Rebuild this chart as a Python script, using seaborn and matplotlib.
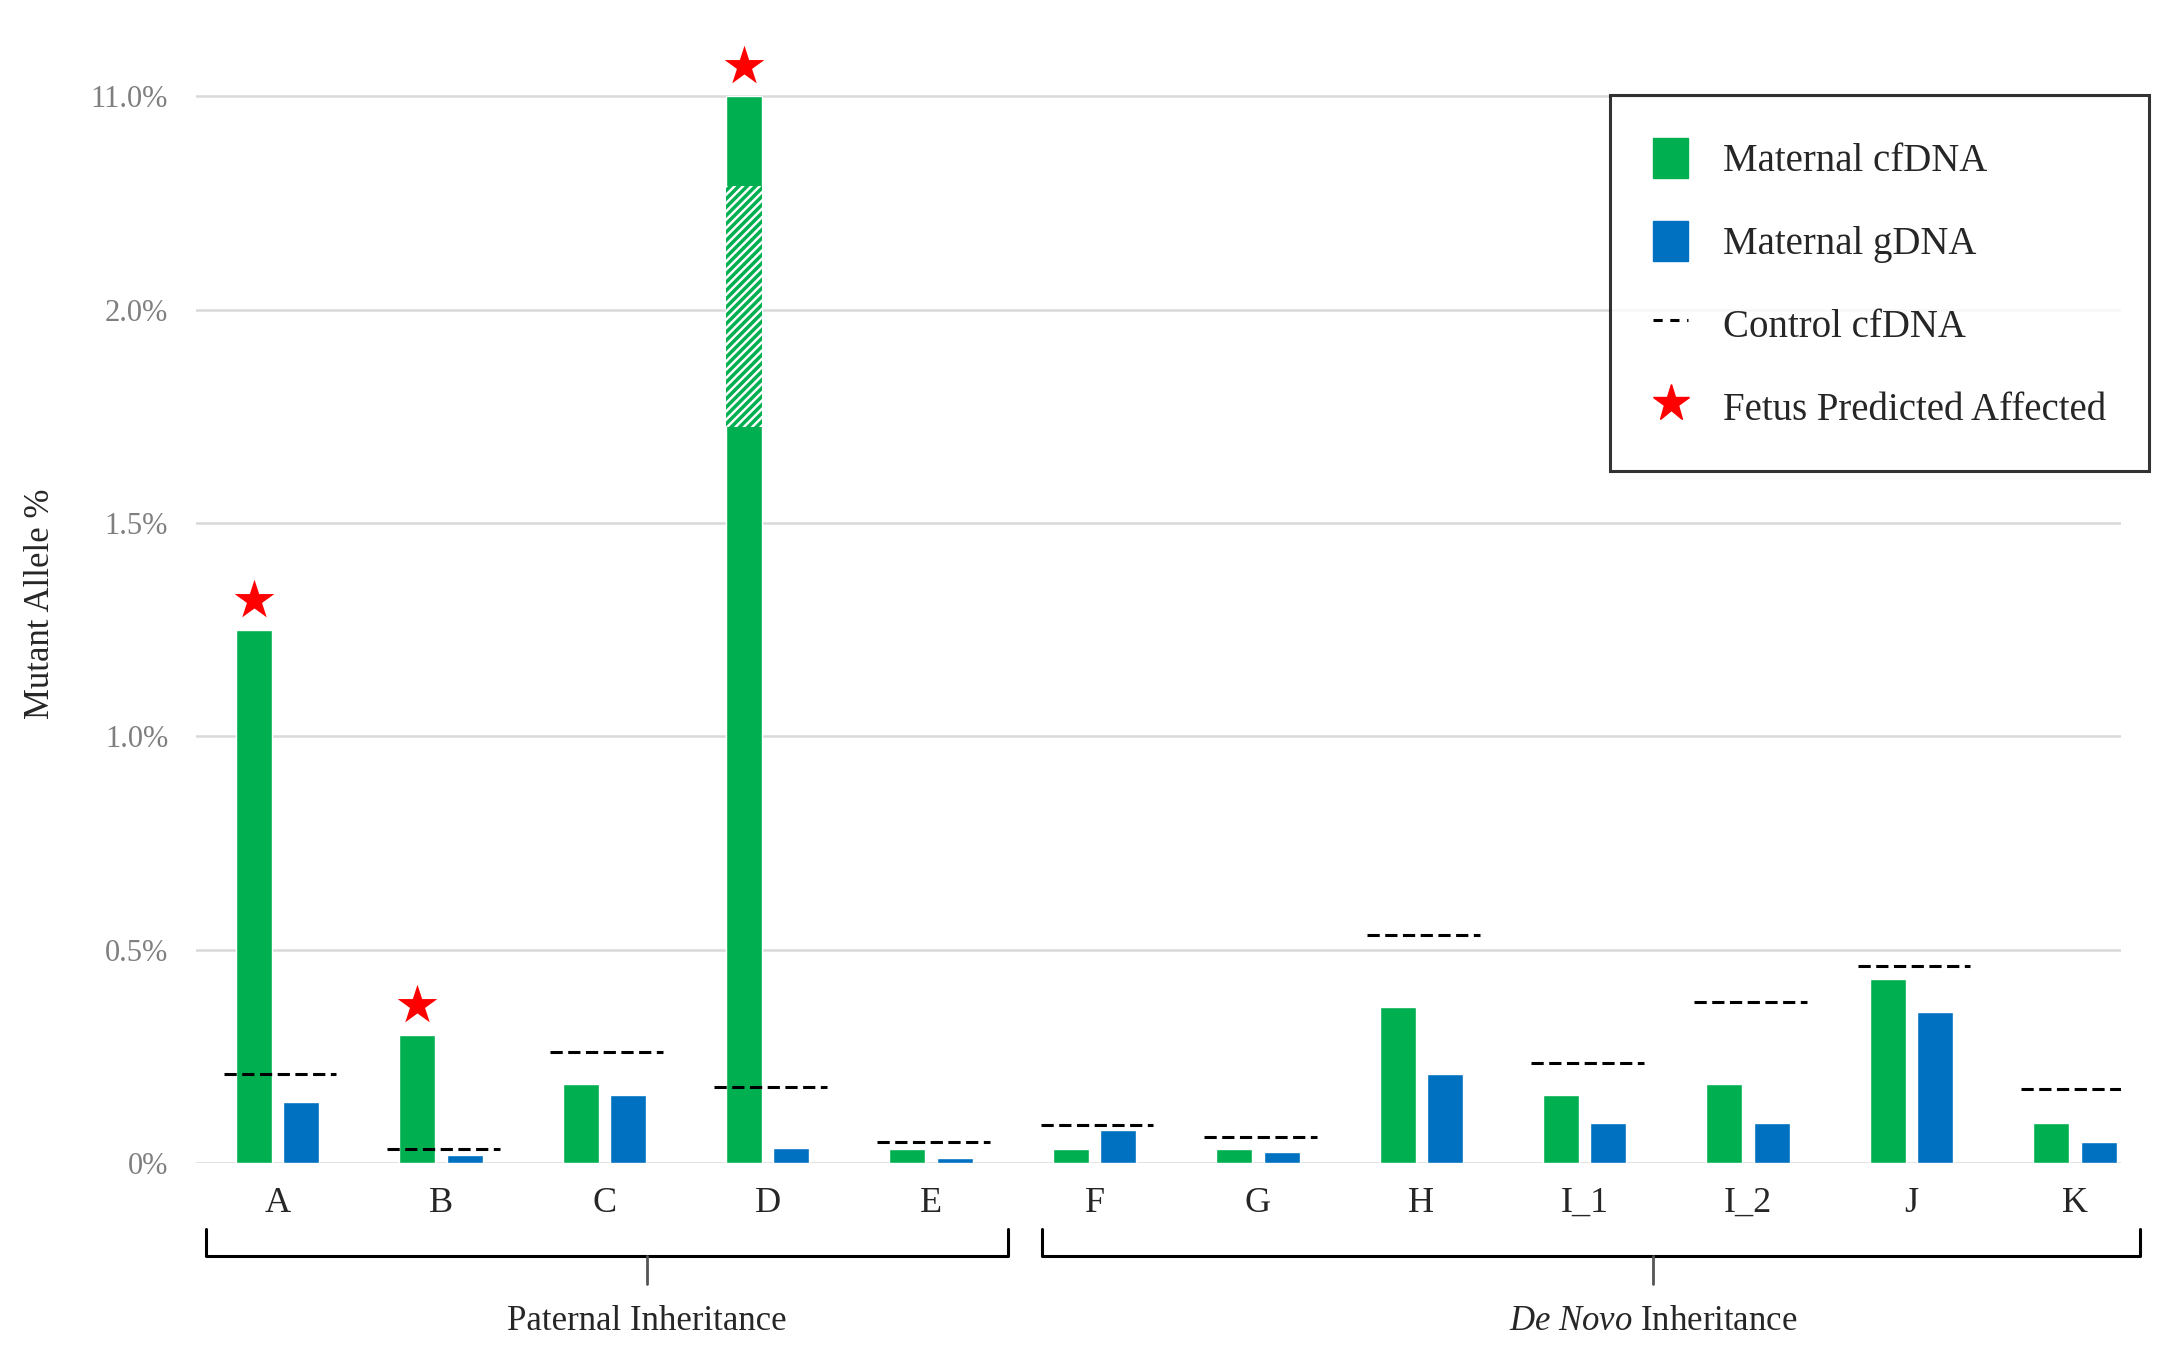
import matplotlib
matplotlib.use('Agg')
import matplotlib.pyplot as plt
import matplotlib.transforms as mtransforms
from matplotlib.patches import Patch
from matplotlib.lines import Line2D
import seaborn as sns
import pandas as pd

# 데이터
samples = ['A', 'B', 'C', 'D', 'E', 'F', 'G', 'H', 'I_1', 'I_2', 'J', 'K']
cfdna = [1.25, 0.30, 0.187, 11.0, 0.033, 0.033, 0.033, 0.367, 0.16, 0.187, 0.433, 0.095]
gdna = [0.144, 0.02, 0.16, 0.036, 0.013, 0.079, 0.026, 0.21, 0.095, 0.095, 0.354, 0.049]
control = [0.21, 0.033, 0.262, 0.18, 0.049, 0.089, 0.062, 0.534, 0.236, 0.377, 0.462, 0.174]
affected = [True, True, False, True, False, False, False, False, False, False, False, False]

tick_values = [0, 0.5, 1.0, 1.5, 2.0, 11.0]
tick_labels = ['0%', '0.5%', '1.0%', '1.5%', '2.0%', '11.0%']
groups = ['Paternal Inheritance', r'$\it{De\ Novo}$ Inheritance']
group_span = [(-0.44, 4.47), (4.68, 11.40)]
group_tick = [2.26, 8.42]
break_band = (1.725, 2.29)  # 축 생략 구간(빗금)

green = '#00B050'
blue = '#0070C0'


def squash(v):
    # 2% 이상은 압축된 축
    if v <= 2.0:
        return v
    return 2.0 + (v - 2.0) / (11.0 - 2.0) * 0.5


df = pd.DataFrame({'sample': samples * 2,
                   'kind': ['Maternal cfDNA'] * len(samples) + ['Maternal gDNA'] * len(samples),
                   'value': [squash(v) for v in cfdna + gdna]})

sns.set_style('white')
plt.rcParams['font.family'] = ['Liberation Serif', 'DejaVu Serif']
plt.rcParams['mathtext.fontset'] = 'custom'
plt.rcParams['mathtext.it'] = 'Liberation Serif:italic'
plt.rcParams['mathtext.rm'] = 'Liberation Serif'
plt.rcParams['hatch.linewidth'] = 2.5

fig = plt.figure(figsize=(21.84, 13.58), dpi=100)
ax = fig.add_axes([0.0897, 0.1433, 0.8813, 0.8237])

sns.barplot(data=df, x='sample', y='value', hue='kind', palette=[green, blue],
            saturation=1, width=0.58, gap=0.24, errorbar=None, legend=False, ax=ax)

# D 막대의 생략 구간
d_idx = samples.index('D')
d_bar = ax.containers[0][d_idx]
ax.bar(d_bar.get_x() + d_bar.get_width() / 2, break_band[1] - break_band[0],
       bottom=break_band[0], width=d_bar.get_width(), color='white',
       hatch='////', edgecolor=green, linewidth=0, zorder=3)

# 대조군 cfDNA
for i, c in enumerate(control):
    ax.hlines(c, i - 0.33, i + 0.36, colors='black', linestyles=(0, (4, 1.8)),
              linewidth=2.2, zorder=4)

# 태아 영향 예측 별표
for i, flag in enumerate(affected):
    if flag:
        bar = ax.containers[0][i]
        ax.scatter(bar.get_x() + bar.get_width() / 2, bar.get_height() + 0.07,
                   marker='*', s=900, color='red', linewidths=0, zorder=5, clip_on=False)

ax.set_ylim(0, 2.62)
ax.set_xlim(-0.5, 11.28)
ax.set_yticks([squash(v) for v in tick_values])
ax.set_yticklabels(tick_labels, color='#7f7f7f', fontsize=22)
ax.yaxis.grid(True, color='#d9d9d9', linewidth=1.8)
ax.set_axisbelow(True)
for s in ax.spines.values():
    s.set_visible(False)
ax.tick_params(axis='x', length=0, labelsize=26, pad=17)
ax.tick_params(axis='y', length=0, pad=20)
ax.set_xlabel('')
ax.set_ylabel('Mutant Allele %', fontsize=25, labelpad=24)

# 그룹 괄호
trans = mtransforms.blended_transform_factory(ax.transData, fig.transFigure)
for name, (x0, x1), xm in zip(groups, group_span, group_tick):
    ax.plot([x0, x0, x1, x1], [0.0948, 0.0753, 0.0753, 0.0948], color='black',
            linewidth=2.2, transform=trans, clip_on=False)
    ax.plot([xm, xm], [0.0753, 0.0546], color='#555555', linewidth=2,
            transform=trans, clip_on=False)
    ax.text(xm, 0.027, name, fontsize=25, ha='center', va='center',
            transform=trans)

handles = [Patch(color=green), Patch(color=blue),
           Line2D([], [], color='black', linestyle=(0, (3, 2.5)), linewidth=2.2),
           Line2D([], [], marker='*', color='red', linestyle='none', markersize=28)]
labels = ['Maternal cfDNA', 'Maternal gDNA', 'Control cfDNA', 'Fetus Predicted Affected']
leg = fig.legend(handles, labels, loc='upper right', bbox_to_anchor=(0.984, 0.93),
                 fontsize=28, frameon=True, fancybox=False, edgecolor='black',
                 labelspacing=1.05, handlelength=0.9, handleheight=1.2,
                 handletextpad=0.9, borderpad=1.1, borderaxespad=0)
leg.get_frame().set_linewidth(2.2)

plt.savefig('out.png', dpi=100)
